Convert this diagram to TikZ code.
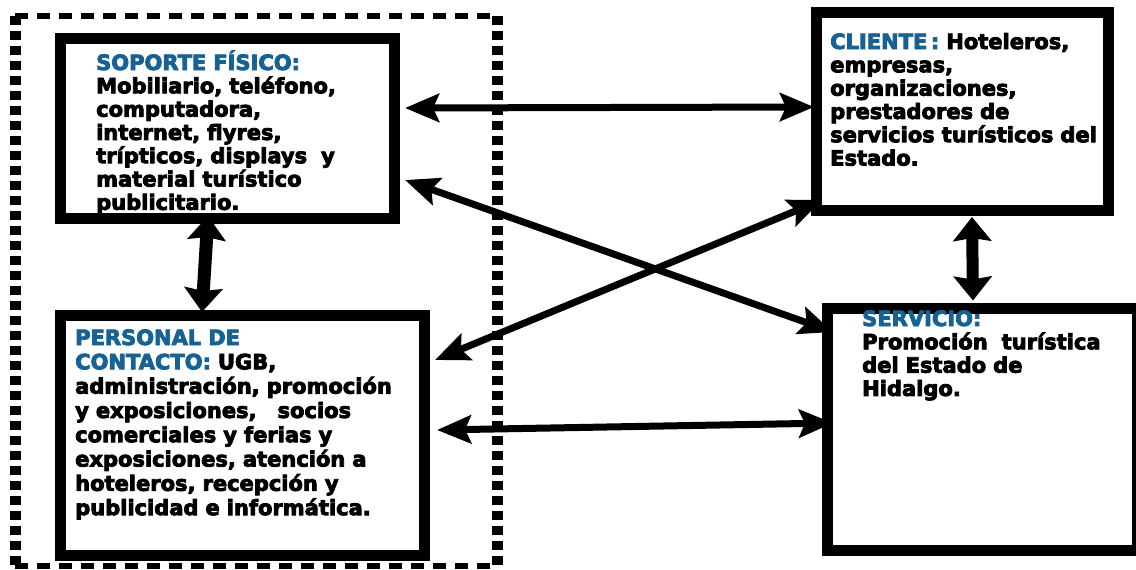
\documentclass[tikz,border=0pt]{standalone}
\usepackage{fontspec}
\setmainfont{DejaVu Sans}[BoldFeatures={FakeBold=4}]
\usetikzlibrary{arrows.meta}
\definecolor{hdr}{RGB}{22,98,148}
\newcommand{\hd}[1]{\textcolor{hdr}{#1}}
\begin{document}
\begin{tikzpicture}[x=1pt,y=-1pt,
  box/.style={draw=black,line width=11pt,rectangle,inner sep=0pt},
  framebox/.style={rectangle,inner sep=0pt,outer sep=0pt},
  hdash/.style={line width=6pt,dash pattern=on 13pt off 9pt},
  vdash/.style={line width=11pt,dash pattern=on 9pt off 6pt},
  txt/.style={anchor=base west,inner sep=0pt,text width=380pt,align=left,
    font=\fontsize{21}{23.3}\selectfont\bfseries},
  harrow/.style={line width=7pt,{Stealth[length=34pt,width=28pt,inset=6pt]}-{Stealth[length=34pt,width=28pt,inset=6pt]}},
  varrow/.style={line width=13pt,{Stealth[length=24pt,width=38pt,inset=3pt]}-{Stealth[length=24pt,width=38pt,inset=3pt]}}]
\useasboundingbox (0,0) rectangle (1136,570);
% dashed frame
\node[framebox,minimum width=482pt,minimum height=550pt] (frame) at (256,291) {};
\draw[hdash] (frame.north west) -- (frame.north east);
\draw[hdash] (frame.south west) -- (frame.south east);
\draw[vdash] (frame.north west) -- (frame.south west);
\draw[vdash] (frame.north east) -- (frame.south east);
% boxes
\node[box,minimum width=334pt,minimum height=180pt] (sop) at (227.5,128.5) {};
\node[box,minimum width=364pt,minimum height=240pt] (per) at (242.5,435.5) {};
\node[box,minimum width=292pt,minimum height=198pt] (cli) at (962.5,111.5) {};
\node[box,minimum width=310pt,minimum height=242pt] (ser) at (982,429) {};
% texts
\node[txt] (sopt) at (96,70) {\hd{SOPORTE FÍSICO:}\\Mobiliario, teléfono,\\computadora,\\internet, flyres,\\trípticos, displays\ \ y\\material turístico\\publicitario.};
\node[txt,font=\fontsize{21}{24.3}\selectfont\bfseries] (pert) at (75,345) {\hd{PERSONAL DE}\\\hd{CONTACTO:} UGB,\\administración, promoción\\y exposiciones,\ \ \ socios\\comerciales y ferias y\\exposiciones, atención a\\hoteleros, recepción y\\publicidad e informática.};
\node[txt] (clit) at (830,49) {\hd{CLIENTE\,:} Hoteleros,\\empresas,\\organizaciones,\\prestadores de\\servicios turísticos del\\Estado.};
\node[txt] (sert) at (862,326) {\hd{SERVICIO:}\\Promoción\ \ turística\\del Estado de\\Hidalgo.};
% connectors
\draw[harrow] ([shift={(5,-20.5)}]sop.east) -- ([shift={(3,-4.5)}]cli.west);
\draw[harrow] ([shift={(5,51.5)}]sop.east) -- ([shift={(11.5,-97)}]ser.west);
\draw[harrow] ([shift={(5,-75.5)}]per.east) -- ([shift={(11,88.5)}]cli.west);
\draw[harrow] ([shift={(7,-5.5)}]per.east) -- ([shift={(11.5,-6)}]ser.west);
\draw[varrow] ([shift={(-19.5,-8)}]sop.south) -- ([shift={(-40.5,2)}]per.north);
\draw[varrow,line width=12pt] ([shift={(9.5,1)}]cli.south) -- ([shift={(-9,-2)}]ser.north);
\end{tikzpicture}
\end{document}
